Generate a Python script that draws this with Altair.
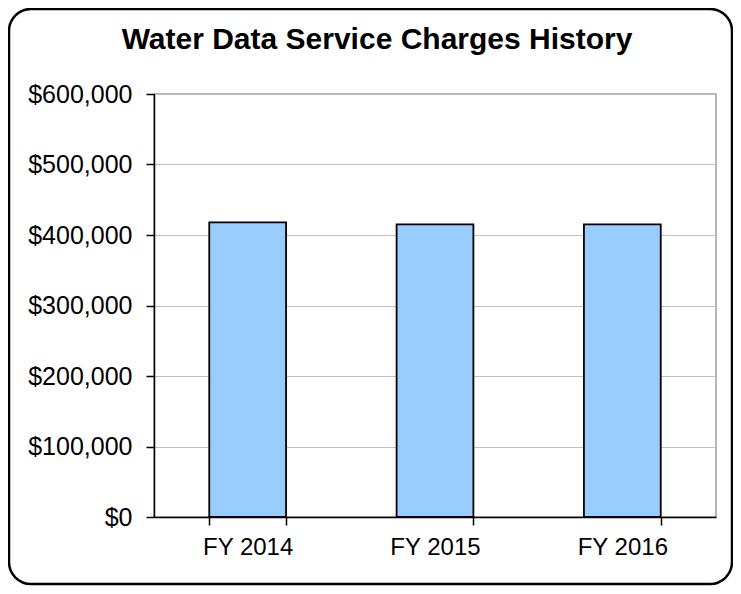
import altair as alt
import pandas as pd

years = ["FY 2014", "FY 2015", "FY 2016"]
charges = [418000, 415000, 415000]
y_ticks = [0, 100000, 200000, 300000, 400000, 500000, 600000]

df = pd.DataFrame({"year": years, "charge": charges})

W, H = 562, 423

bars = alt.Chart(df).mark_bar(
    color="#99ccff", stroke="black", strokeWidth=1.8
).encode(
    x=alt.X("year:N", sort=years,
            scale=alt.Scale(paddingInner=0.59, paddingOuter=0.295),
            axis=alt.Axis(title=None, labelAngle=0, tickBand="extent",
                          domainColor="black", domainWidth=1.5,
                          tickColor="black", tickWidth=1.5, tickSize=8,
                          labelFontSize=24, labelColor="black",
                          labelPadding=10, grid=False)),
    y=alt.Y("charge:Q",
            scale=alt.Scale(domain=[0, 600000], nice=False),
            axis=alt.Axis(title=None, values=y_ticks, format="$,.0f",
                          domainColor="black", domainWidth=1.5,
                          tickColor="black", tickWidth=1.5, tickSize=8,
                          labelFontSize=25, labelColor="black",
                          labelPadding=14, gridColor="#c0c0c0",
                          gridWidth=1.2)),
)

frame = alt.Chart(pd.DataFrame({"a": [0]})).mark_rect(
    fill=None, stroke="black", strokeWidth=2.5, cornerRadius=22
).encode(
    x=alt.value(-145), x2=alt.value(578),
    y=alt.value(-85), y2=alt.value(490),
)

chart = alt.layer(bars, frame).properties(
    width=W, height=H,
    autosize=alt.AutoSizeParams(type="none"),
    padding={"left": 146, "top": 86, "right": 17, "bottom": 69},
    title=alt.TitleParams(
        "Water Data Service Charges History",
        fontSize=30, fontWeight="bold", font="Liberation Sans",
        color="black", offset=-47, dx=-58, anchor="middle", frame="group",
    ),
).configure(
    font="Liberation Sans",
).configure_view(
    stroke="#a0a0a0", strokeWidth=1.5,
)

chart.save("out.html", embed_options={"renderer": "svg", "actions": False})
